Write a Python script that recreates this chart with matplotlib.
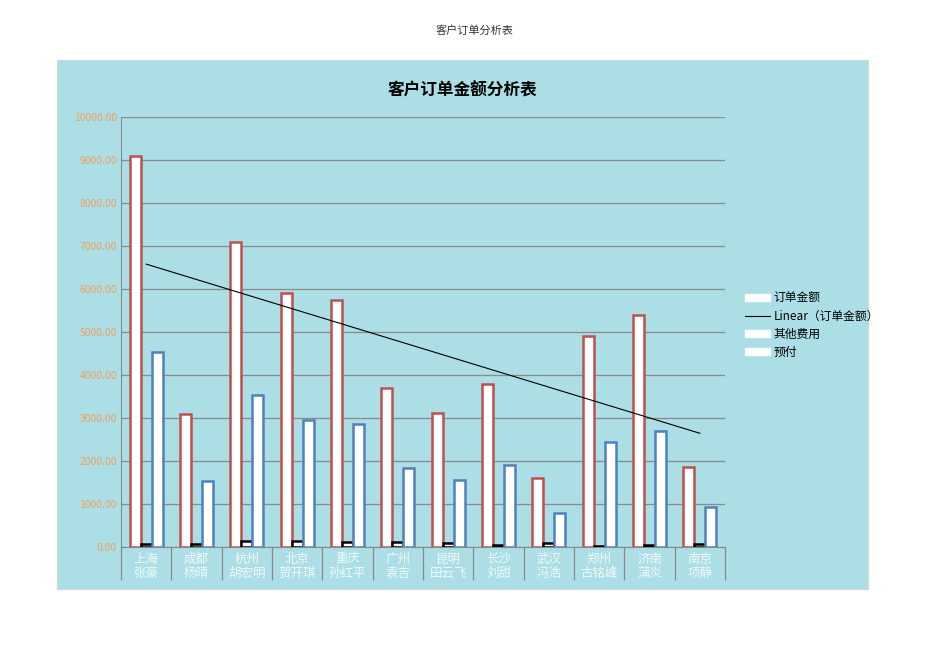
import numpy as np
import matplotlib
matplotlib.use('Agg')
import matplotlib.pyplot as plt
from matplotlib.patches import Patch
from matplotlib.lines import Line2D

plt.rcParams['font.family'] = ['Noto Sans CJK SC', 'DejaVu Sans']

# data
cities = ['上海', '成都', '杭州', '北京', '重庆', '广州', '昆明', '长沙', '武汉', '郑州', '济南', '南京']
names = ['张豪', '杨晴', '胡宏明', '贺开琪', '孙红平', '袁吉', '田云飞', '刘甜', '冯浩', '古铭峰', '蒲炎', '项静']
order_amount = [9100, 3100, 7100, 5900, 5750, 3700, 3120, 3800, 1600, 4900, 5400, 1860]
other_fees = [80, 80, 150, 130, 110, 120, 90, 40, 100, 20, 50, 60]
prepaid = [4530, 1530, 3530, 2950, 2860, 1840, 1560, 1900, 790, 2440, 2700, 930]
y_ticks = np.arange(0, 10001, 1000)

fig = plt.figure(figsize=(9.5, 6.72), dpi=100)
fig.patch.set_facecolor('white')

# page title
fig.text(0.5, 0.954, '客户订单分析表', ha='center', va='center', fontsize=8, color='#333333')

# chart area background
bg = fig.add_axes([0.06, 0.1235, 0.8537, 0.787], zorder=0)
bg.set_facecolor('#abdee5')
bg.set_xticks([])
bg.set_yticks([])
for s in bg.spines.values():
    s.set_color('#cfd8da')

ax = fig.add_axes([0.1274, 0.186, 0.6358, 0.640], zorder=1)
ax.set_facecolor('none')

x = np.arange(len(cities))
w = 0.22
ax.bar(x - w, order_amount, w, facecolor='white', edgecolor='#c0504d', linewidth=1.8, zorder=3)
ax.bar(x, other_fees, w, facecolor='white', edgecolor='black', linewidth=1.8, zorder=3)
ax.bar(x + w, prepaid, w, facecolor='white', edgecolor='#4f81bd', linewidth=1.8, zorder=3)

# linear trend of order amount
k, b = np.polyfit(x, order_amount, 1)
ax.plot(x, k * x + b, color='black', linewidth=0.8, zorder=4)

ax.set_xlim(-0.5, len(cities) - 0.5)
ax.set_ylim(0, 10000)
ax.set_yticks(y_ticks)
ax.set_yticklabels([f'{v:.2f}' for v in y_ticks], color='#f0a060', fontsize=7.5)
ax.yaxis.grid(True, color='#8a8a8a', linewidth=0.9, zorder=1)
ax.tick_params(axis='y', length=0, pad=3)

ax.set_xticks(x)
ax.set_xticklabels([f'{c}\n{n}' for c, n in zip(cities, names)], color='#f0fafb',
                   fontsize=9, linespacing=1.15)
ax.tick_params(axis='x', which='major', length=0, pad=4)
ax.set_xticks(np.arange(-0.5, len(cities)), minor=True)
ax.tick_params(axis='x', which='minor', length=24, color='#8a8a8a', width=0.9)

for s in ['top', 'right']:
    ax.spines[s].set_visible(False)
ax.spines['left'].set_color('#8a8a8a')
ax.spines['bottom'].set_color('#8a8a8a')

fig.text(0.487, 0.866, '客户订单金额分析表', ha='center', va='center',
         fontsize=12, fontweight='bold', color='black')

handles = [Patch(facecolor='white', edgecolor='white'),
           Line2D([0], [0], color='black', linewidth=0.8),
           Patch(facecolor='white', edgecolor='white'),
           Patch(facecolor='white', edgecolor='white')]
labels = ['订单金额', 'Linear（订单金额）', '其他费用', '预付']
fig.legend(handles, labels, loc='center left', bbox_to_anchor=(0.773, 0.516),
           frameon=False, fontsize=8.5, handlelength=2.1, handleheight=0.6,
           labelspacing=0.42, handletextpad=0.3)

plt.savefig('out.png', dpi=100)
